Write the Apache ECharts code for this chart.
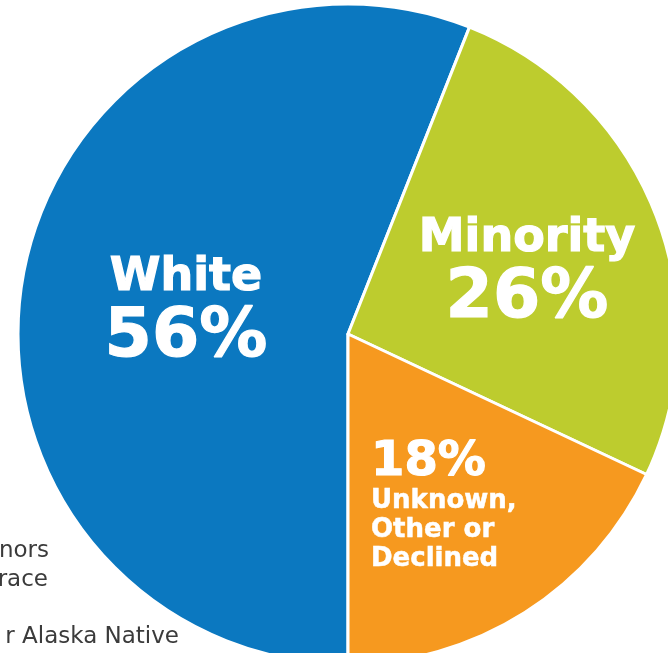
<!DOCTYPE html>
<html>
<head>
<meta charset="utf-8">
<script src="https://cdn.jsdelivr.net/npm/echarts@6/dist/echarts.min.js"></script>
<style>
  html, body { margin: 0; padding: 0; background: #ffffff; }
  #chart { width: 668px; height: 653px; }
</style>
</head>
<body>
<div id="chart"></div>
<script>
// Share of students by race / ethnicity
const categories = ['White', 'Minority', 'Unknown, Other or Declined'];
const shares = [56, 26, 18];
const sliceColors = ['#0b78c0', '#bdcc2e', '#f6991f'];
// Leftover legend fragments along the left edge
const sideNotes = ['nors', 'race', 'r Alaska Native'];

const FONT = '"DejaVu Sans", sans-serif';

// Where each slice's label sits (pixels)
const labelSpots = [
  { x: 186, y: 311, align: 'center' },
  { x: 527, y: 272, align: 'center' },
  { x: 371, y: 506, align: 'left' }
];

function labelText(i) {
  if (i === 0) return '{n|White}\n{p|' + shares[0] + '%}';
  if (i === 1) return '{n|Minority}\n{p|' + shares[1] + '%}';
  return '{q|' + shares[2] + '%}\n{s|Unknown,}\n{s|Other or}\n{s|Declined}';
}

// Heavy white lettering for the slice labels
function heavy(size, lh, stroke) {
  return {
    fontFamily: FONT, fontWeight: 'bold', fontSize: size, lineHeight: lh,
    color: '#fff', textBorderColor: '#fff', textBorderWidth: stroke
  };
}

const chart = echarts.init(document.getElementById('chart'));
chart.setOption({
  backgroundColor: '#ffffff',
  animation: false,
  graphic: sideNotes.map((t, i) => ({
    type: 'text',
    z: -1,
    style: {
      text: t,
      x: [49, 48, 179][i],
      y: [551, 580, 637][i],
      textAlign: 'right',
      textVerticalAlign: 'middle',
      font: '23px "DejaVu Sans", sans-serif',
      fill: '#3b3b3b'
    }
  })),
  series: [{
    type: 'pie',
    center: [348, 334],
    radius: 330,
    startAngle: 270,
    clockwise: true,
    silent: true,
    itemStyle: { borderColor: '#ffffff', borderWidth: 3 },
    data: categories.map((c, i) => ({
      name: c,
      value: shares[i],
      itemStyle: { color: sliceColors[i] }
    })),
    label: {
      show: true,
      position: 'inside',
      color: '#ffffff',
      formatter: p => labelText(p.dataIndex),
      rich: {
        n: heavy(46, 54, 1.2),
        p: heavy(68, 66, 1.2),
        q: heavy(48, 48, 1.2),
        s: heavy(26, 29, 0.5)
      }
    },
    labelLine: { show: false },
    labelLayout: params => {
      const s = labelSpots[params.dataIndex];
      return { x: s.x, y: s.y, align: s.align, verticalAlign: 'middle' };
    }
  }]
});
</script>
</body>
</html>
